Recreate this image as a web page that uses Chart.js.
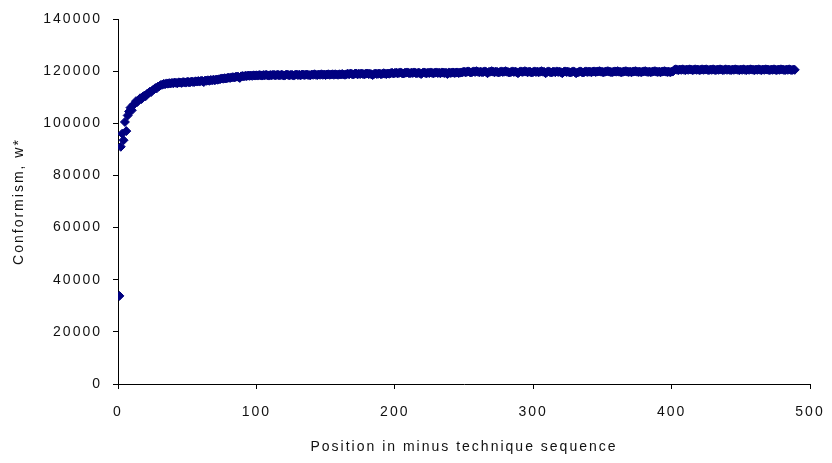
<!DOCTYPE html>
<html>
<head>
<meta charset="utf-8">
<script src="https://cdn.jsdelivr.net/npm/chart.js@4/dist/chart.umd.min.js"></script>
<style>
html,body{margin:0;padding:0;background:#fff;}
#wrap{width:832px;height:463px;position:relative;}
</style>
</head>
<body>
<div id="wrap"><canvas id="c" width="832" height="463"></canvas></div>
<script>
const positions = [
1,2,3,4,5,6,7,8,9,10,11,12,13,14,15,16,17,18,19,20,
21,22,23,24,25,26,27,28,29,30,31,32,33,34,35,36,37,38,39,40,
41,42,43,44,45,46,47,48,49,50,51,52,53,54,55,56,57,58,59,60,
61,62,63,64,65,66,67,68,69,70,71,72,73,74,75,76,77,78,79,80,
81,82,83,84,85,86,87,88,89,90,91,92,93,94,95,96,97,98,99,100,
101,102,103,104,105,106,107,108,109,110,111,112,113,114,115,116,117,118,119,120,
121,122,123,124,125,126,127,128,129,130,131,132,133,134,135,136,137,138,139,140,
141,142,143,144,145,146,147,148,149,150,151,152,153,154,155,156,157,158,159,160,
161,162,163,164,165,166,167,168,169,170,171,172,173,174,175,176,177,178,179,180,
181,182,183,184,185,186,187,188,189,190,191,192,193,194,195,196,197,198,199,200,
201,202,203,204,205,206,207,208,209,210,211,212,213,214,215,216,217,218,219,220,
221,222,223,224,225,226,227,228,229,230,231,232,233,234,235,236,237,238,239,240,
241,242,243,244,245,246,247,248,249,250,251,252,253,254,255,256,257,258,259,260,
261,262,263,264,265,266,267,268,269,270,271,272,273,274,275,276,277,278,279,280,
281,282,283,284,285,286,287,288,289,290,291,292,293,294,295,296,297,298,299,300,
301,302,303,304,305,306,307,308,309,310,311,312,313,314,315,316,317,318,319,320,
321,322,323,324,325,326,327,328,329,330,331,332,333,334,335,336,337,338,339,340,
341,342,343,344,345,346,347,348,349,350,351,352,353,354,355,356,357,358,359,360,
361,362,363,364,365,366,367,368,369,370,371,372,373,374,375,376,377,378,379,380,
381,382,383,384,385,386,387,388,389,390,391,392,393,394,395,396,397,398,399,400,
401,402,403,404,405,406,407,408,409,410,411,412,413,414,415,416,417,418,419,420,
421,422,423,424,425,426,427,428,429,430,431,432,433,434,435,436,437,438,439,440,
441,442,443,444,445,446,447,448,449,450,451,452,453,454,455,456,457,458,459,460,
461,462,463,464,465,466,467,468,469,470,471,472,473,474,475,476,477,478,479,480,
481,482,483,484,485,486,487,488,489
];

const conformism = [
33800,91000,96000,93500,100500,97000,103000,104500,106000,105000,
107000,107500,108500,108200,109000,109600,109300,110200,110600,110400,
111300,111500,112100,112000,112700,113000,113500,113400,114100,114300,
114700,114800,115100,115000,115300,115200,115400,115300,115500,115400,
115600,115500,115400,115700,115600,115500,115800,115700,115600,115900,
115800,115700,116000,115900,115800,116100,116000,116200,116000,116300,
116200,115800,116400,116300,116500,116300,116600,116500,116700,116500,
116800,116700,116900,117000,117200,117100,117300,117200,117400,117500,
117400,117600,117700,117600,117800,117900,117800,117400,118000,118100,
118000,118200,118100,118300,118200,118300,118200,118400,118300,118400,
118300,118500,118400,118300,118500,118400,118600,118400,118300,118500,
118400,118600,118500,118400,118600,118500,118400,118600,118500,118300,
118500,118700,118500,118400,118600,118500,118300,118600,118700,118500,
118600,118400,118700,118600,118500,118700,118600,118500,118400,118700,
118600,118800,118600,118500,118700,118600,118800,118600,118700,118500,
118700,118800,118600,118700,118800,118600,118800,118700,118600,118800,
118700,118900,118700,118600,118800,
119000,118800,119100,118900,118700,119000,119100,118800,119000,118900,
119100,118900,118800,119000,119100,118900,119000,118800,118500,118900,
119100,118900,119000,119100,118800,119000,119200,119000,118900,119100,
119000,
119200,119400,119100,119300,119400,119200,119300,119500,119300,119100,
119300,119400,119500,119300,119200,119400,119300,119500,119300,119200,
119400,119300,118900,119300,119500,119300,119200,119400,119300,119500,
119300,119200,119400,119500,119300,119400,119200,119500,119400,119300,
119400,118900,119500,119300,119400,119500,119300,119400,119500,119300,
119400,119500,
119600,119800,119600,119700,119900,119700,119500,119700,119900,119700,
120000,119800,119600,119800,119600,119700,119900,119700,119200,119700,
119800,120000,119800,119600,119800,119700,119500,119700,119900,119700,
119800,120000,119800,119600,119500,119700,119900,119700,119800,119600,
119200,119700,119900,119700,119800,120000,119800,119600,119800,119700,
119500,119700,119900,119700,119800,119600,119800,120000,119800,119700,
119200,119700,119900,119700,119500,119700,119800,119600,119900,119700,
119800,119600,119200,119700,119900,119700,119800,119600,119500,119700,
119900,119700,119200,119500,119700,119900,119700,119500,119700,119900,
119700,119800,
119800,119600,119800,119900,119700,119800,119900,120000,119800,119700,
119600,119800,119900,120000,119800,119700,119600,119800,119900,119800,
120000,119800,119700,119600,119800,119900,120000,119800,119700,119800,
119600,119800,119900,120000,119800,119700,119800,119600,119800,119900,
120000,119800,119700,119800,119600,119800,119900,120000,119800,119700,
119800,119600,119800,119900,120000,119800,119700,119800,119600,119800,
119900,
120500,120700,120500,120400,120600,120500,120700,120500,120400,120600,
120500,120700,120600,120400,120500,120700,120500,120600,120400,120500,
120700,120500,120600,120700,120500,120400,120600,120500,120700,120500,
120400,120600,120500,120700,120600,120400,120500,120700,120500,120600,
120500,120400,120600,120500,120700,120600,120500,120400,120600,120500,
120700,120500,120400,120600,120500,120700,120600,120500,120400,120600,
120500,120700,120500,120400,120600,120500,120700,120600,120500,120400,
120600,120500,120700,120500,120400,120600,120500,120700,120600,120500,
120400,120600,120500,120700,120500,120400,120600,120500
];

const xTickLabels = ['0','100','200','300','400','500'];
const yTickLabels = ['0','20000','40000','60000','80000','100000','120000','140000'];
const xTitle = 'Position in minus technique sequence';
const yTitle = 'Conformism, w*';

const points = positions.map((p, i) => ({x: p, y: conformism[i]}));

const spacing = {
  id: 'spacing',
  beforeUpdate(c){ c.ctx.letterSpacing = '2px'; },
  beforeLayout(c){ c.ctx.letterSpacing = '2px'; },
  beforeDraw(c){ c.ctx.letterSpacing = '2px'; }
};

const FONT = {family: '"Liberation Sans", Arial, sans-serif', size: 14, lineHeight: 1.2};

new Chart(document.getElementById('c'), {
  type: 'scatter',
  data: {
    datasets: [{
      data: points,
      pointStyle: 'rectRot',
      pointRadius: 4.5,
      pointBorderWidth: 1,
      backgroundColor: '#000080',
      borderColor: '#000080',
      showLine: false
    }]
  },
  plugins: [spacing],
  options: {
    responsive: false,
    animation: false,
    devicePixelRatio: 1,
    layout: {padding: {left: 0, right: 22, top: 19, bottom: 0}},
    plugins: {legend: {display: false}, tooltip: {enabled: false}},
    scales: {
      x: {
        type: 'linear', min: 0, max: 500,
        ticks: {stepSize: 100, color: '#111', font: FONT, padding: 15, maxRotation: 0,
          callback: (v) => xTickLabels[xTickLabels.indexOf(String(v))] },
        grid: {display: true, drawOnChartArea: false, drawTicks: true, tickLength: 5, color: '#000'},
        border: {display: true, color: '#000', width: 1},
        title: {display: true, text: xTitle, color: '#111', font: FONT, padding: {bottom: 7.6, top: 0}},
        afterFit: (s) => { s.height = 79; s.paddingRight = 0; s.paddingLeft = 0; }
      },
      y: {
        type: 'linear', min: 0, max: 140000,
        ticks: {stepSize: 20000, color: '#111', font: FONT, padding: 11,
          callback: (v) => yTickLabels[yTickLabels.indexOf(String(v))] },
        grid: {display: true, drawOnChartArea: false, drawTicks: true, tickLength: 5, color: '#000'},
        border: {display: true, color: '#000', width: 1},
        title: {display: true, text: yTitle, color: '#111', font: FONT, padding: {top: 10.6, bottom: 0}},
        afterFit: (s) => { s.width = 118; s.paddingTop = 0; s.paddingBottom = 0; }
      }
    }
  }
});
</script>
</body>
</html>
